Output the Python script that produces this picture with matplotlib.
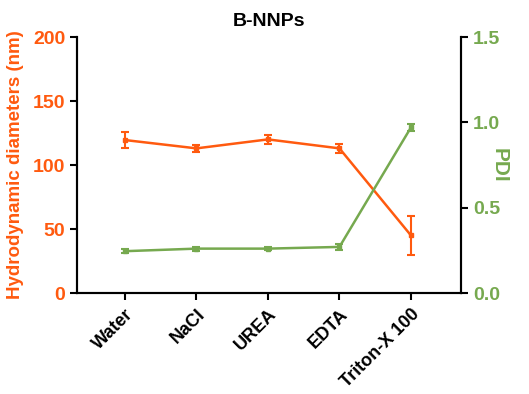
import numpy as np
import matplotlib.pyplot as plt

plt.rcParams['font.family'] = ['Liberation Sans', 'DejaVu Sans']
plt.rcParams['font.weight'] = 'bold'

categories = ["Water", "NaCl", "UREA", "EDTA", "Triton-X 100"]
diam = [119.5, 113, 120, 113, 45]
diam_err = [6, 3, 3.5, 3.5, 15]
pdi = [0.245, 0.26, 0.26, 0.27, 0.97]
pdi_err = [0.01, 0.012, 0.01, 0.02, 0.02]

orange = "#FF5A0F"
green = "#76A94F"

fig = plt.figure(figsize=(5.29, 3.94), dpi=100)
ax = fig.add_axes([77 / 529, 1 - 293 / 394, 384 / 529, 256 / 394])
x = np.arange(len(categories))

ax.errorbar(x, diam, yerr=diam_err, color=orange, lw=1.8, marker='s', ms=3,
            capsize=3, capthick=1.5, elinewidth=1.5, zorder=3)
ax.set_ylim(0, 200)
ax.set_yticks([0, 50, 100, 150, 200])
ax.set_xlim(-0.67, 4.7)
ax.set_xticks(x)
ax.set_xticklabels(categories, rotation=45, ha='right', rotation_mode='anchor',
                   fontsize=13, fontweight='bold')
ax.set_ylabel("Hydrodynamic diameters (nm)", color=orange, fontsize=13.5,
              fontweight='bold', labelpad=6)
ax.tick_params(axis='y', labelsize=14, width=1.5, length=5, color='black',
               labelcolor=orange)
ax.tick_params(axis='x', width=1.5, length=5, pad=4)
for lbl in ax.get_yticklabels():
    lbl.set_fontweight('bold')
for s in ax.spines.values():
    s.set_linewidth(1.5)
ax.spines['top'].set_visible(False)

ax2 = ax.twinx()
ax2.errorbar(x, pdi, yerr=pdi_err, color=green, lw=1.8, marker='s', ms=3,
             capsize=3, capthick=1.5, elinewidth=1.5, zorder=3)
ax2.set_ylim(0, 1.5)
ax2.set_yticks([0.0, 0.5, 1.0, 1.5])
ax2.set_yticklabels(["0.0", "0.5", "1.0", "1.5"])
ax2.set_ylabel("PDI", color=green, fontsize=15, fontweight='bold',
               rotation=270, labelpad=6)
ax2.tick_params(axis='y', labelsize=14, width=1.5, length=5, color='black',
                labelcolor=green)
for lbl in ax2.get_yticklabels():
    lbl.set_fontweight('bold')
ax2.spines['top'].set_visible(False)
for s in ax2.spines.values():
    s.set_linewidth(1.5)

ax.set_title("B-NNPs", fontsize=14, fontweight='bold', pad=8)

fig.savefig("out.png", dpi=100)
